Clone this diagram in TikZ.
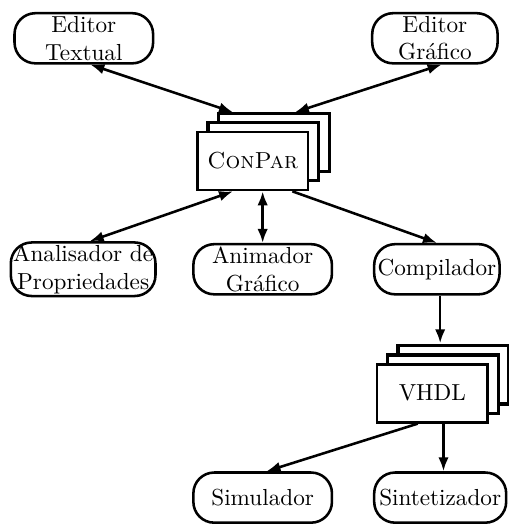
\documentclass[tikz,border=0pt]{standalone}
\usepackage{tikz}
\usetikzlibrary{arrows.meta,shadows,calc}

\begin{document}
\begin{tikzpicture}[
  modulo/.style={draw, line width=1.1pt, rounded corners=9pt, align=center, minimum width=2.1cm, minimum height=0.76cm, inner sep=1pt},
  pilha/.style={draw, line width=1.1pt, fill=white, minimum width=1.68cm, minimum height=0.88cm,
    double copy shadow={shadow xshift=0.16cm, shadow yshift=0.14cm, draw, line width=1.4pt, fill=white}},
  seta/.style={line width=1.1pt, -{Latex[length=6pt,width=4.5pt]}},
  dupla/.style={line width=1.1pt, {Latex[length=6pt,width=4.5pt]}-{Latex[length=6pt,width=4.5pt]}}
]
\useasboundingbox (0,0) rectangle (7.70,7.94);

% === Editores ===
\node[modulo] (etext) at (1.27,7.36) {Editor\\Textual};
\node[modulo, minimum width=1.9cm] (egraf) at (6.59,7.36) {Editor\\Gr\'afico};

% === Nucleo ===
\node[pilha] (conpar) at (3.83,5.50) {\textsc{ConPar}};

% === Ferramentas ===
\node[modulo] (anprop) at (1.26,3.86) {Analisador de\\Propriedades};
\node[modulo] (anim) at (3.98,3.86) {Animador\\Gr\'afico};
\node[modulo, minimum width=1.9cm] (comp) at (6.62,3.86) {Compilador};

% === Saida VHDL ===
\node[pilha] (vhdl) at (6.55,1.98) {VHDL};
\node[modulo] (simul) at (3.98,0.40) {Simulador};
\node[modulo, minimum width=2.0cm] (sintet) at (6.67,0.40) {Sintetizador};

% ligacoes
\draw[dupla] ([xshift=0.1cm]etext.south) -- ([xshift=-0.3cm,yshift=0.28cm]conpar.north);
\draw[dupla] ([xshift=0.1cm]egraf.south) -- ([xshift=0.64cm,yshift=0.28cm]conpar.north);
\draw[dupla] ([xshift=-0.3cm]conpar.south) -- ([xshift=0.1cm]anprop.north);
\draw[dupla] (anim.north |- conpar.south) -- (anim.north);
\draw[seta] ([xshift=0.6cm]conpar.south) -- (comp.north);
\draw[seta] ([xshift=0.05cm]comp.south) -- ([xshift=0.05cm,yshift=0.3cm]vhdl.north -| comp.south);
\draw[seta] ([xshift=-0.22cm]vhdl.south) -- ([xshift=0.06cm]simul.north);
\draw[seta] ([xshift=0.05cm]sintet.north |- vhdl.south) -- ([xshift=0.05cm]sintet.north);

\end{tikzpicture}
\end{document}
